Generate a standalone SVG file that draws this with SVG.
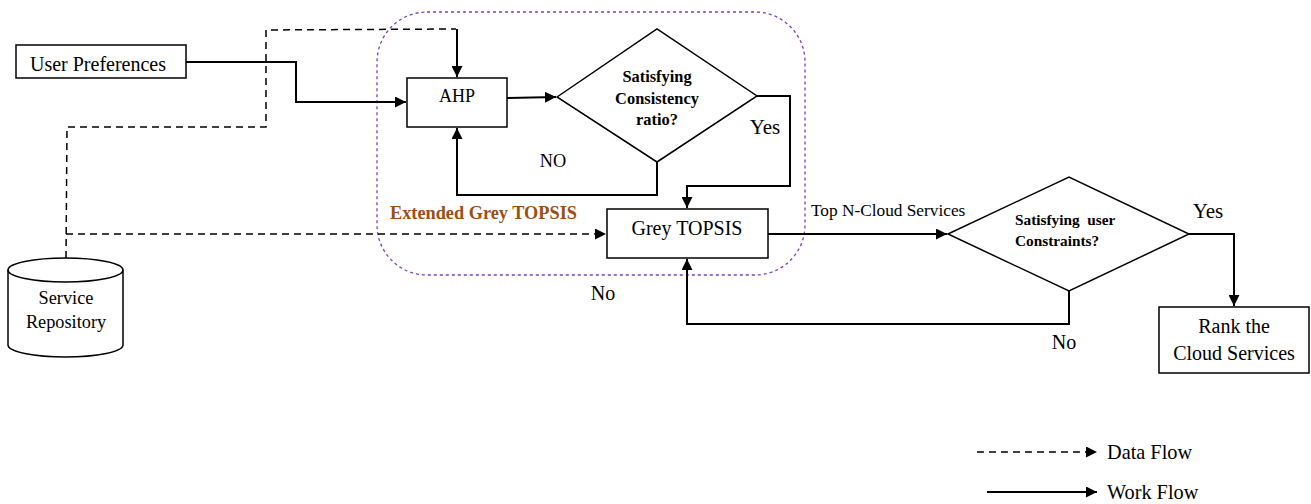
<svg xmlns="http://www.w3.org/2000/svg" width="1311" height="504" viewBox="0 0 1311 504">
<defs>
<style>
.box{fill:#fff;stroke:#000;stroke-width:1.5}
.wf{fill:none;stroke:#000;stroke-width:2}
.df{fill:none;stroke:#000;stroke-width:1.5;stroke-dasharray:7,5}
.t{font-family:"Liberation Serif",serif;fill:#000}
.b{font-family:"Liberation Serif",serif;font-weight:bold;fill:#000}
</style>
<marker id="arr" viewBox="0 0 10 10" refX="10" refY="5" markerWidth="11" markerHeight="11" markerUnits="userSpaceOnUse" orient="auto">
<path d="M0,0 L10,5 L0,10 z" fill="#000"/>
</marker>
</defs>

<!-- group boundary -->
<rect x="377" y="12" width="428" height="263" rx="50" ry="50" fill="none" stroke="#7d3fc4" stroke-width="1.3" stroke-dasharray="3,3"/>
<text class="b" x="390" y="219" font-size="18.3" style="fill:#9c4f14">Extended Grey TOPSIS</text>

<g id="connectors">
<polyline class="wf" points="186,62 296,62 296,102 406,102" marker-end="url(#arr)"/>
<polyline class="df" points="66,258 67,127 266,127 266,30 456,29"/>
<line class="wf" x1="457" y1="29" x2="457" y2="77" marker-end="url(#arr)"/>
<line class="wf" x1="507" y1="98" x2="556" y2="97" marker-end="url(#arr)"/>
<polyline class="wf" points="657,162 657,195 457,195 457,128" marker-end="url(#arr)"/>
<polyline class="wf" points="757,96 790,96 790,186 687,186 687,208" marker-end="url(#arr)"/>
<line class="df" x1="66" y1="234" x2="606" y2="234" marker-end="url(#arr)"/>
<line class="wf" x1="768" y1="234" x2="947" y2="234" marker-end="url(#arr)"/>
<polyline class="wf" points="1189,234 1234,234 1234,306" marker-end="url(#arr)"/>
<polyline class="wf" points="1069,291 1069,324 687,324 687,259" marker-end="url(#arr)"/>
<text class="t" x="553" y="167" font-size="18.3" text-anchor="middle">NO</text>
<text class="t" x="765" y="134" font-size="21" text-anchor="middle">Yes</text>
<text class="t" x="811" y="216" font-size="17.3">Top N-Cloud Services</text>
<text class="t" x="1208" y="218" font-size="21" text-anchor="middle">Yes</text>
<text class="t" x="1064" y="349" font-size="20" text-anchor="middle">No</text>
<text class="t" x="603" y="300" font-size="20" text-anchor="middle">No</text>
</g>

<g id="user-preferences">
<rect class="box" x="16" y="45" width="170" height="33"/>
<text class="t" x="98" y="71" font-size="20" text-anchor="middle">User Preferences</text>
</g>

<g id="ahp">
<rect class="box" x="407" y="78" width="100" height="49"/>
<text class="t" x="457" y="102" font-size="18" text-anchor="middle">AHP</text>
</g>

<g id="consistency-check">
<polygon class="box" points="557,97 657,29 757,96 657,162"/>
<text class="b" x="657" y="82" font-size="16.4" text-anchor="middle">Satisfying</text>
<text class="b" x="657" y="104" font-size="16.4" text-anchor="middle">Consistency</text>
<text class="b" x="657" y="125" font-size="16.4" text-anchor="middle">ratio?</text>
</g>

<g id="grey-topsis">
<rect class="box" x="607" y="209" width="161" height="49"/>
<text class="t" x="687" y="235" font-size="20" text-anchor="middle">Grey TOPSIS</text>
</g>

<g id="constraints-check">
<polygon class="box" points="948,234 1069,177 1189,234 1069,291"/>
<text class="b" x="1015" y="225" font-size="15.3" xml:space="preserve">Satisfying  user</text>
<text class="b" x="1015" y="246" font-size="15.3">Constraints?</text>
</g>

<g id="rank">
<rect class="box" x="1159" y="307" width="150" height="66"/>
<text class="t" x="1234" y="333" font-size="20" text-anchor="middle">Rank the</text>
<text class="t" x="1234" y="360" font-size="20" text-anchor="middle">Cloud Services</text>
</g>

<g id="service-repository">
<path class="box" d="M8,270 L8,345 A57.5,12 0 0 0 123,345 L123,270 A57.5,12 0 0 0 8,270 Z"/>
<path fill="none" stroke="#000" stroke-width="1.5" d="M8,270 A57.5,12 0 0 0 123,270"/>
<text class="t" x="66" y="304" font-size="18.3" text-anchor="middle">Service</text>
<text class="t" x="66" y="328" font-size="18.3" text-anchor="middle">Repository</text>
</g>

<g id="legend">
<line class="df" x1="977" y1="452" x2="1097" y2="452" marker-end="url(#arr)"/>
<text class="t" x="1107" y="459" font-size="20.3">Data Flow</text>
<line class="wf" x1="987" y1="492" x2="1097" y2="492" marker-end="url(#arr)"/>
<text class="t" x="1107" y="499" font-size="20.3">Work Flow</text>
</g>
</svg>
